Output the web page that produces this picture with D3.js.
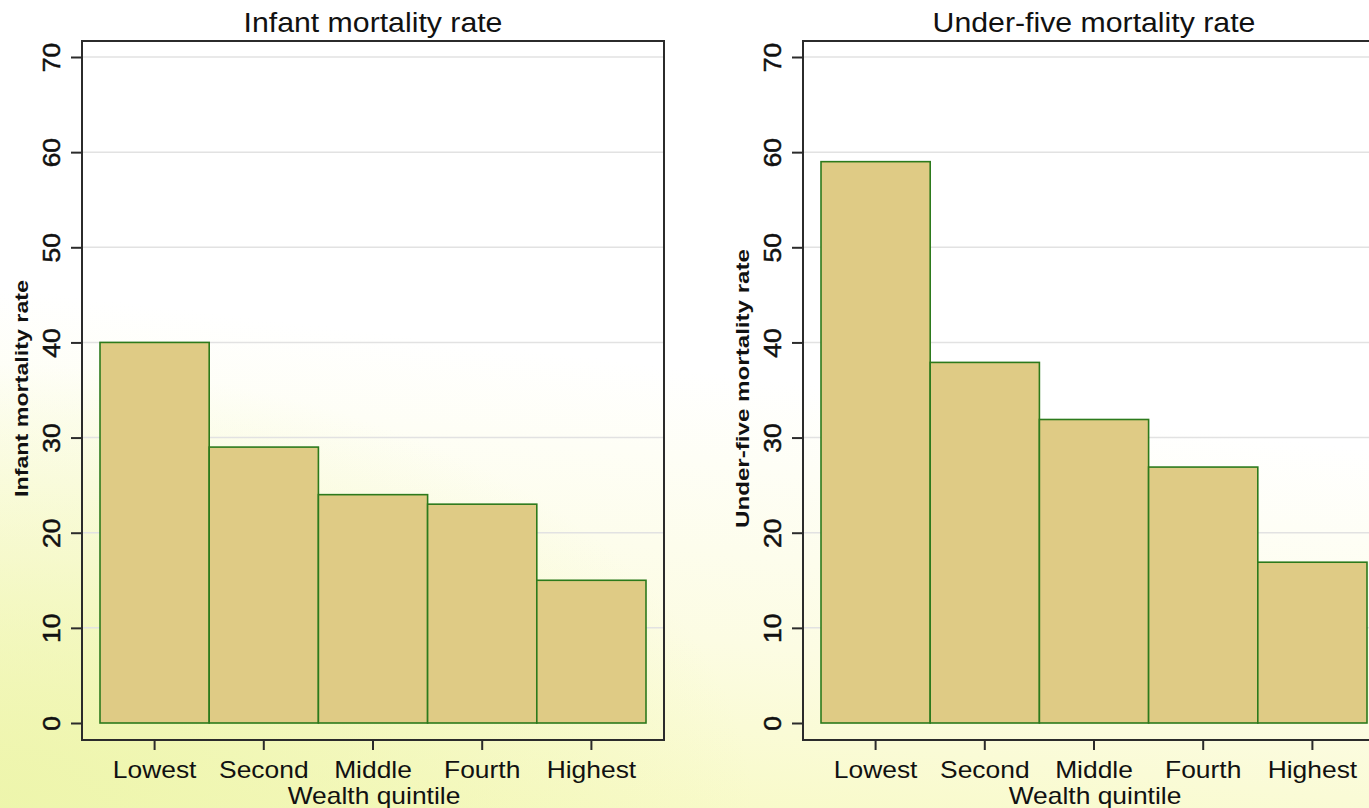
<!DOCTYPE html>
<html>
<head>
<meta charset="utf-8">
<script src="https://cdn.jsdelivr.net/npm/d3@7"></script>
<style>
  body { margin: 0; overflow: hidden; background: #fff; }
  text { font-family: "Liberation Sans", Arial, sans-serif; fill: #111; }
</style>
</head>
<body>
<div id="vis"></div>
<script>
// values
var quintiles = ["Lowest", "Second", "Middle", "Fourth", "Highest"];
var infantRates = [40, 29, 24, 23, 15];
var underFiveRates = [59, 37.9, 31.9, 26.9, 16.9];
var yTicks = [0, 10, 20, 30, 40, 50, 60, 70];

var width = 1369;
var height = 808;

var svg = d3.select("#vis").append("svg")
  .attr("width", width)
  .attr("height", height);

// background wash, white on top, pale yellow at the bottom
var defs = svg.append("defs");
var lg = defs.append("linearGradient")
  .attr("id", "bg")
  .attr("x1", 0.2).attr("y1", 0)
  .attr("x2", 0).attr("y2", 1);
lg.append("stop").attr("offset", "0%").attr("stop-color", "#ffffff");
lg.append("stop").attr("offset", "38%").attr("stop-color", "#ffffff");
lg.append("stop").attr("offset", "70%").attr("stop-color", "#fcfce3");
lg.append("stop").attr("offset", "100%").attr("stop-color", "#f6f9bc");

var rg = defs.append("radialGradient")
  .attr("id", "bgGreen")
  .attr("cx", 0).attr("cy", 1).attr("r", 0.55);
rg.append("stop").attr("offset", "0%").attr("stop-color", "#edf5ab").attr("stop-opacity", 0.95);
rg.append("stop").attr("offset", "100%").attr("stop-color", "#edf5ab").attr("stop-opacity", 0);

svg.append("rect").attr("width", width).attr("height", height).attr("fill", "url(#bg)");
svg.append("rect").attr("width", width).attr("height", height).attr("fill", "url(#bgGreen)");

// stretch text horizontally like the source image
function stretch(sel, k)
{
  sel.each(function()
  {
    var len = this.getComputedTextLength();
    d3.select(this)
      .attr("textLength", len * k)
      .attr("lengthAdjust", "spacingAndGlyphs");
  });
}

function draw_panel(left, title, yTitle, yTitleLen, values)
{
  var frame = { left: left, right: left + 582, top: 41, bottom: 740 };

  var x = d3.scaleBand()
    .domain(quintiles)
    .range([frame.left + 18, frame.right - 18])
    .padding(0);

  var y = d3.scaleLinear()
    .domain([0, 70])
    .range([723, 57]);

  var g = svg.append("g");

  // gridlines
  g.selectAll(".grid")
    .data(yTicks.filter(function(d) { return d > 0; }))
    .enter().append("line")
    .attr("x1", frame.left)
    .attr("x2", frame.right)
    .attr("y1", function(d) { return y(d); })
    .attr("y2", function(d) { return y(d); })
    .attr("stroke", "#e2e2e2")
    .attr("stroke-width", 1.5);

  // bars
  g.selectAll(".bar")
    .data(values)
    .enter().append("rect")
    .attr("class", "bar")
    .attr("x", function(d, i) { return x(quintiles[i]); })
    .attr("width", x.bandwidth())
    .attr("y", function(d) { return y(d); })
    .attr("height", function(d) { return y(0) - y(d); })
    .attr("fill", "#dfcb85")
    .attr("stroke", "#2c7a1c")
    .attr("stroke-width", 1.6);

  // frame
  g.append("rect")
    .attr("x", frame.left)
    .attr("y", frame.top)
    .attr("width", frame.right - frame.left)
    .attr("height", frame.bottom - frame.top)
    .attr("fill", "none")
    .attr("stroke", "#2b2b2b")
    .attr("stroke-width", 2);

  // y axis
  var yAxis = d3.axisLeft(y)
    .tickValues(yTicks)
    .tickSize(11);

  var ya = g.append("g")
    .attr("transform", "translate(" + frame.left + ",0)")
    .call(yAxis);
  ya.select(".domain").remove();
  ya.selectAll(".tick line").attr("stroke", "#2b2b2b").attr("stroke-width", 2);
  ya.selectAll(".tick text")
    .attr("x", null)
    .attr("dy", null)
    .attr("transform", "translate(-22,0) rotate(-90)")
    .style("text-anchor", "middle")
    .style("font-size", "23px")
    .style("stroke", "#111")
    .style("stroke-width", 0.5)
    .attr("fill", "#111")
    .call(stretch, 1.15);

  // x axis
  var xAxis = d3.axisBottom(x).tickSize(10);
  var xa = g.append("g")
    .attr("transform", "translate(0," + frame.bottom + ")")
    .call(xAxis);
  xa.select(".domain").remove();
  xa.selectAll(".tick line").attr("stroke", "#2b2b2b").attr("stroke-width", 2);
  xa.selectAll(".tick text")
    .attr("y", 38)
    .attr("dy", null)
    .style("font-size", "24px")
    .attr("fill", "#111")
    .call(stretch, 1.1);

  var cx = (frame.left + frame.right) / 2;

  // title
  g.append("text")
    .attr("x", cx)
    .attr("y", 32)
    .style("text-anchor", "middle")
    .style("font-size", "27.5px")
    .text(title)
    .call(stretch, 1.1);

  // x axis title
  g.append("text")
    .attr("x", cx + 1)
    .attr("y", 804)
    .style("text-anchor", "middle")
    .style("font-size", "24px")
    .text("Wealth quintile")
    .call(stretch, 1.1);

  // y axis title
  g.append("text")
    .attr("transform", "translate(" + (frame.left - 54) + "," + ((frame.top + frame.bottom) / 2 - 2) + ") rotate(-90)")
    .style("text-anchor", "middle")
    .style("font-size", "19px")
    .style("font-weight", "bold")
    .attr("textLength", yTitleLen)
    .attr("lengthAdjust", "spacingAndGlyphs")
    .text(yTitle);
}

draw_panel(82, "Infant mortality rate", "Infant mortality rate", 217, infantRates);
draw_panel(803, "Under-five mortality rate", "Under-five mortality rate", 279, underFiveRates);
</script>
</body>
</html>
